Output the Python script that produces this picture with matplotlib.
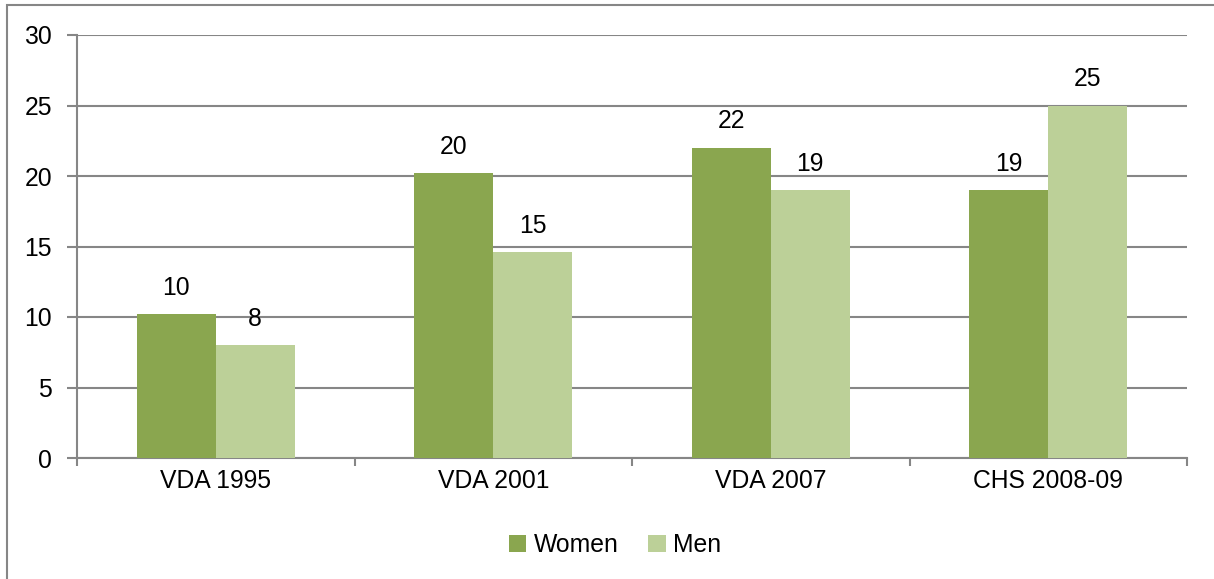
import numpy as np
import matplotlib.pyplot as plt
from matplotlib.patches import Rectangle

categorias = ["VDA 1995", "VDA 2001", "VDA 2007", "CHS 2008-09"]
mujeres = [10.2, 20.2, 22.0, 19.0]
hombres = [8.0, 14.6, 19.0, 25.0]
series = ["Women", "Men"]
yticks = [0, 5, 10, 15, 20, 25, 30]

plt.rcParams['font.family'] = ['Liberation Sans', 'DejaVu Sans']
gris = '#868686'
fs = 17.8

fig = plt.figure(figsize=(12.14, 5.79), dpi=100)
ax = fig.add_axes([77/1214, 1-458/579, (1187-77)/1214, (458-35)/579])

x = np.arange(len(categorias))
ancho = 0.285
b1 = ax.bar(x - ancho/2, mujeres, ancho, color='#8AA64F', label=series[0], zorder=3)
b2 = ax.bar(x + ancho/2, hombres, ancho, color='#BCD098', label=series[1], zorder=3)

# etiquetas de valor
for barras, vals in [(b1, mujeres), (b2, hombres)]:
    for r, v in zip(barras, vals):
        ax.annotate(f"{round(v)}", (r.get_x() + r.get_width()/2, v),
                    xytext=(0, 19), textcoords='offset points',
                    ha='center', va='center', fontsize=fs)

ax.set_xlim(-0.5, len(categorias) - 0.5)
ax.set_ylim(0, 30)
ax.set_yticks(yticks)
ax.yaxis.grid(True, color=gris, linewidth=1.5, zorder=0)

# ticks en los limites de categorias
ax.set_xticks(np.arange(len(categorias) + 1) - 0.5)
ax.set_xticklabels([])
ax.set_xticks(x, minor=True)
ax.set_xticklabels(categorias, minor=True)
ax.tick_params(axis='x', which='minor', length=0, labelsize=fs, pad=8)
ax.tick_params(axis='x', which='major', length=6, color=gris, width=1.5)
ax.tick_params(axis='y', length=7, color=gris, width=1.5, labelsize=fs, pad=11)

for lado in ['top', 'right']:
    ax.spines[lado].set_visible(False)
for lado in ['left', 'bottom']:
    ax.spines[lado].set_color(gris)
    ax.spines[lado].set_linewidth(1.5)

ax.legend(loc='center', bbox_to_anchor=(615/1214, 1-545/579),
          bbox_transform=fig.transFigure, ncol=2, frameon=False,
          fontsize=fs, handlelength=0.7, handleheight=0.7,
          handletextpad=0.3, columnspacing=1.2)

# marco del grafico
fig.patches.append(Rectangle((7/1214, -0.1), 1.2, (579-5)/579 + 0.1,
                             transform=fig.transFigure, fill=False,
                             edgecolor=gris, linewidth=1.5))

fig.savefig("out.png", dpi=100)
